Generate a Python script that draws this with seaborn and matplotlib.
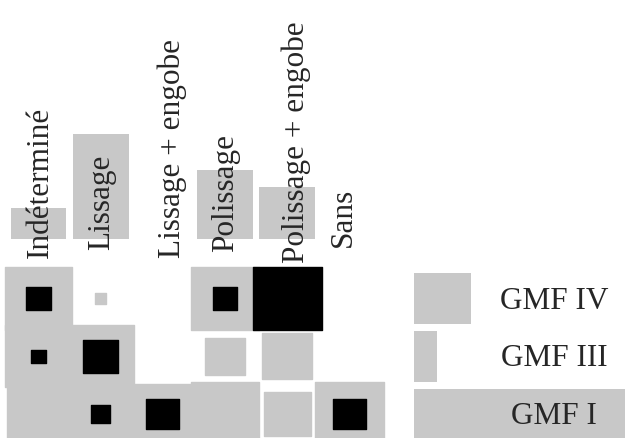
import matplotlib

matplotlib.use("Agg")
import matplotlib.pyplot as plt
import numpy as np
import pandas
import seaborn as sns

# Surface treatment (columns) and group (rows)
techniques = [
    "Indéterminé",
    "Lissage",
    "Lissage + engobe",
    "Polissage",
    "Polissage + engobe",
    "Sans",
]
groups = ["GMF IV", "GMF III", "GMF I"]

# Marginal totals
technique_totals = [31, 105, 0, 69, 52, 0.5]
group_totals = [57, 23, 215]

# Cell squares, side as a fraction of the cell (rows follow groups)
gray_sides = [
    [1.09, 0.18, 0.0, 1.10, 1.00, 0.0],
    [1.07, 1.07, 0.0, 0.64, 0.80, 0.0],
    [1.00, 1.05, 1.03, 1.10, 0.75, 1.10],
]
black_sides = [
    [0.41, 0.0, 0.0, 0.39, 1.10, 0.0],
    [0.23, 0.57, 0.0, 0.0, 0.0, 0.0],
    [0.0, 0.30, 0.53, 0.0, 0.0, 0.53],
]

GRAY = "#c8c8c8"
W, H = 625, 439

sns.set_style("white")
plt.rcParams["font.family"] = ["Liberation Serif", "DejaVu Serif"]


def frac(left, top, width, height):
    """pixel box -> figure fraction"""
    return [left / W, (H - top - height) / H, width / W, height / H]


fig = plt.figure(figsize=(W / 100, H / 100), dpi=100)

# Matrix of squares
col_pitch, row_pitch = 62.2, 57.75
mx_left = 38.5 - col_pitch / 2
mx_top = 299.5 - row_pitch / 2
ax_m = fig.add_axes(frac(mx_left, mx_top, 6 * col_pitch, 3 * row_pitch))
ax_m.set_xlim(-0.5, 5.5)
ax_m.set_ylim(2.5, -0.5)
ax_m.set_axis_off()

for sides, color in [(gray_sides, GRAY), (black_sides, "black")]:
    for r, row in enumerate(sides):
        s = np.array(row)
        keep = s > 0
        x = np.arange(len(techniques))[keep]
        s = s[keep]
        bars = ax_m.bar(
            x, s, width=s, bottom=r - s / 2, color=color,
            edgecolor=color, linewidth=1.0, joinstyle="round",
        )
        for b in bars:
            b.set_clip_on(False)

# Top bars (totals per technique)
ax_t = fig.add_axes(frac(mx_left, 130, 6 * col_pitch, 110))
top_df = pandas.DataFrame({"technique": techniques, "total": technique_totals})
sns.barplot(
    data=top_df, x="technique", y="total", color=GRAY, saturation=1,
    width=0.9, linewidth=0, ax=ax_t,
)
ax_t.set_xlim(-0.5, 5.5)
ax_t.set_ylim(0, 110)
ax_t.set_axis_off()

# the long labels sit a bit off-centre in the original
nudge_x = [2, 1, 9, 0, 9, -6]
nudge_y = [-18, -10, -18, -12, -23, -7]
for i, name in enumerate(techniques):
    ax_t.text(
        i + nudge_x[i] / col_pitch, nudge_y[i], name, rotation=90,
        ha="center", va="bottom", fontsize=22.5, clip_on=False,
    )

# Right bars (totals per group)
ax_r = fig.add_axes(frac(414, mx_top, W - 414, 3 * row_pitch))
right_df = pandas.DataFrame({"group": groups, "total": group_totals})
sns.barplot(
    data=right_df, x="total", y="group", orient="h", color=GRAY,
    saturation=1, width=0.88, linewidth=0, ax=ax_r,
)
ax_r.set_xlim(0, W - 414)
ax_r.set_ylim(2.5, -0.5)
ax_r.set_axis_off()
for r, name in enumerate(groups):
    ax_r.text(140, r + 0.03, name, ha="center", va="center", fontsize=22.5)

fig.savefig("out.png", dpi=100)
